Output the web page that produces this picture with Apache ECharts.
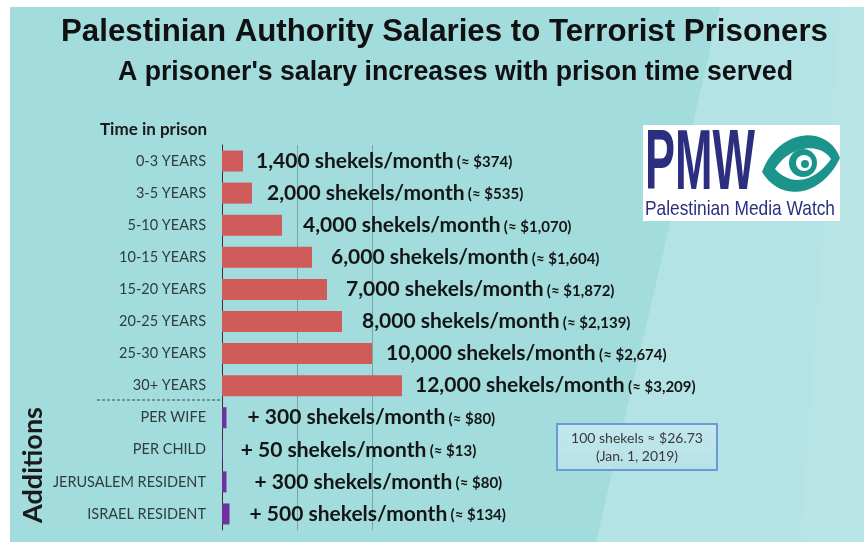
<!DOCTYPE html>
<html>
<head>
<meta charset="utf-8">
<title>PA salaries to prisoners</title>
<script src="https://cdn.jsdelivr.net/npm/echarts@6/dist/echarts.min.js"></script>
<style>
  html, body { margin: 0; padding: 0; background: #fff; }
  #chart { width: 868px; height: 546px; }
</style>
</head>
<body>
<div id="chart"></div>
<script>
// rows, top to bottom
const categories = ['0-3 YEARS', '3-5 YEARS', '5-10 YEARS', '10-15 YEARS', '15-20 YEARS',
  '20-25 YEARS', '25-30 YEARS', '30+ YEARS', 'PER WIFE', 'PER CHILD',
  'JERUSALEM RESIDENT', 'ISRAEL RESIDENT'];
const shekels = [1400, 2000, 4000, 6000, 7000, 8000, 10000, 12000, 300, 50, 300, 500];
const dollars = ['374', '535', '1,070', '1,604', '1,872', '2,139', '2,674', '3,209', '80', '13', '80', '134'];
const isAddition = [false, false, false, false, false, false, false, false, true, true, true, true];
const xTicks = [0, 5000, 10000, 15000];

// gap between bar end and its label (px), as laid out in the slide
const labelGap = [13, 15, 21, 19, 19, 20, 14, 13, 21, 18, 28, 20];

const font = 'Lato, "Open Sans", sans-serif';
const arial = '"Liberation Sans", Arial, sans-serif';

// squeeze a single-line text to a target width (stands in for Arial Narrow)
const ctx = document.createElement('canvas').getContext('2d');
function fitScale(text, css, target) {
  ctx.font = css;
  return target / ctx.measureText(text).width;
}

// sample a cubic bezier outline for the logo eye
function bez(p0, p1, p2, p3, n) {
  const pts = [];
  for (let k = 0; k <= n; k++) {
    const t = k / n, u = 1 - t;
    pts.push([
      u * u * u * p0[0] + 3 * u * u * t * p1[0] + 3 * u * t * t * p2[0] + t * t * t * p3[0],
      u * u * u * p0[1] + 3 * u * u * t * p1[1] + 3 * u * t * t * p2[1] + t * t * t * p3[1]
    ]);
  }
  return pts;
}
function almond(a, c1, c2, b, c3, c4) {
  return bez(a, c1, c2, b, 20).concat(bez(b, c3, c4, a, 20).slice(1));
}

const barData = shekels.map((v, i) => {
  const amount = v.toLocaleString('en-US');
  const txt = (isAddition[i] ? '+ ' : '') + amount + ' shekels/month';
  return {
    value: v,
    itemStyle: { color: isAddition[i] ? '#7030a0' : '#cf5b5b' },
    label: {
      distance: labelGap[i],
      formatter: '{a|' + txt + '} {b|(≈ $' + dollars[i] + ')}'
    }
  };
});

const title = 'Palestinian Authority Salaries to Terrorist Prisoners';
const subtitle = "A prisoner's salary increases with prison time served";
const titleScale = fitScale(title, 'bold 31px "Liberation Sans"', 767);
const subScale = fitScale(subtitle, 'bold 28px "Liberation Sans"', 675);
const pmwScale = fitScale('PMW', 'bold 86px "Liberation Sans"', 110);
const pmwSubScale = fitScale('Palestinian Media Watch', '21px "Liberation Sans"', 190);

const myChart = echarts.init(document.getElementById('chart'));

const option = {
  backgroundColor: '#ffffff',
  animation: false,
  grid: { left: 222, top: 145, width: 225, height: 385, containLabel: false },
  xAxis: {
    type: 'value',
    min: xTicks[0],
    max: xTicks[xTicks.length - 1],
    interval: xTicks[1] - xTicks[0],
    axisLine: { show: false },
    axisTick: { show: false },
    axisLabel: { show: false },
    splitLine: { showMaxLine: false, showMinLine: false, lineStyle: { color: '#76a6a7', width: 1 } }
  },
  yAxis: {
    type: 'category',
    inverse: true,
    data: categories,
    axisLine: { lineStyle: { color: '#333', width: 1 } },
    axisTick: { show: false },
    axisLabel: { color: '#2f3d3d', fontFamily: font, fontSize: 14.5, margin: 16 }
  },
  series: [{
    type: 'bar',
    data: barData,
    barWidth: 21,
    z: 3,
    label: {
      show: true,
      position: 'right',
      rich: {
        a: { fontFamily: font, fontWeight: 'bold', fontSize: 21, color: '#151515' },
        b: { fontFamily: font, fontWeight: 'bold', fontSize: 15, color: '#151515', padding: [3, 0, 0, 0] }
      }
    }
  }],
  graphic: [
    // slide background
    { type: 'rect', silent: true, z: -10, shape: { x: 10, y: 7, width: 854, height: 535 }, style: { fill: '#a2dcdd' } },
    { type: 'polygon', silent: true, z: -9, shape: { points: [[720, 7], [864, 7], [864, 542], [596, 542]] }, style: { fill: '#b3e3e4' } },
    { type: 'polygon', silent: true, z: -9, shape: { points: [[840, 7], [864, 7], [864, 542], [800, 542]] }, style: { fill: '#b7e5e6' } },
    // titles
    { type: 'text', x: 61, y: 32, scaleX: titleScale,
      style: { text: title, fontFamily: arial, fontWeight: 'bold', fontSize: 31, fill: '#111', verticalAlign: 'middle' } },
    { type: 'text', x: 118, y: 72, scaleX: subScale,
      style: { text: subtitle, fontFamily: arial, fontWeight: 'bold', fontSize: 28, fill: '#111', verticalAlign: 'middle' } },
    // axis captions
    { type: 'text', x: 100, y: 121, style: { text: 'Time in prison', fontFamily: font, fontWeight: 'bold', fontSize: 17, fill: '#1a1a1a' } },
    { type: 'text', x: 33, y: 465, rotation: Math.PI / 2,
      style: { text: 'Additions', fontFamily: font, fontWeight: 'bold', fontSize: 27, fill: '#1a1a1a', align: 'center', verticalAlign: 'middle' } },
    { type: 'line', shape: { x1: 97, y1: 400, x2: 222, y2: 400 }, style: { stroke: '#3a4a4a', lineWidth: 1, lineDash: [3, 2] } },
    // PMW logo
    { type: 'rect', shape: { x: 643, y: 125, width: 197, height: 96 }, style: { fill: '#ffffff' } },
    { type: 'text', x: 645, y: 165, scaleX: pmwScale,
      style: { text: 'PMW', fontFamily: arial, fontWeight: 'bold', fontSize: 86, fill: '#2c2e80', verticalAlign: 'middle' } },
    { type: 'polygon', shape: { points: almond([762, 172], [778, 128], [828, 124], [840, 158], [822, 196], [782, 204]) }, style: { fill: '#1b958b' } },
    { type: 'polygon', shape: { points: almond([775, 169], [790, 145], [820, 142], [831, 159], [815, 182], [791, 187]) }, style: { fill: '#ffffff' } },
    { type: 'circle', shape: { cx: 803, cy: 163, r: 14 }, style: { fill: '#1b958b' } },
    { type: 'circle', shape: { cx: 804, cy: 163, r: 8 }, style: { fill: '#ffffff' } },
    { type: 'circle', shape: { cx: 805, cy: 164, r: 4 }, style: { fill: '#1b958b' } },
    { type: 'text', x: 645, y: 209, scaleX: pmwSubScale,
      style: { text: 'Palestinian Media Watch', fontFamily: arial, fontSize: 21, fill: '#2c2e80', verticalAlign: 'middle' } },
    // exchange rate note
    { type: 'rect', shape: { x: 557, y: 424, width: 160, height: 46 },
      style: {
        fill: new echarts.graphic.LinearGradient(0, 0, 0, 1, [
          { offset: 0, color: '#c4e8ee' }, { offset: 1, color: '#b6e1e6' }
        ]),
        stroke: '#6c9ad6', lineWidth: 2
      } },
    { type: 'text', x: 637, y: 447,
      style: { text: '100 shekels ≈ $26.73\n(Jan. 1, 2019)', fontFamily: font, fontSize: 14, lineHeight: 18,
        fill: '#3a3a3a', align: 'center', verticalAlign: 'middle' } }
  ]
};

myChart.setOption(option);
window.addEventListener('resize', () => myChart.resize());
</script>
</body>
</html>
